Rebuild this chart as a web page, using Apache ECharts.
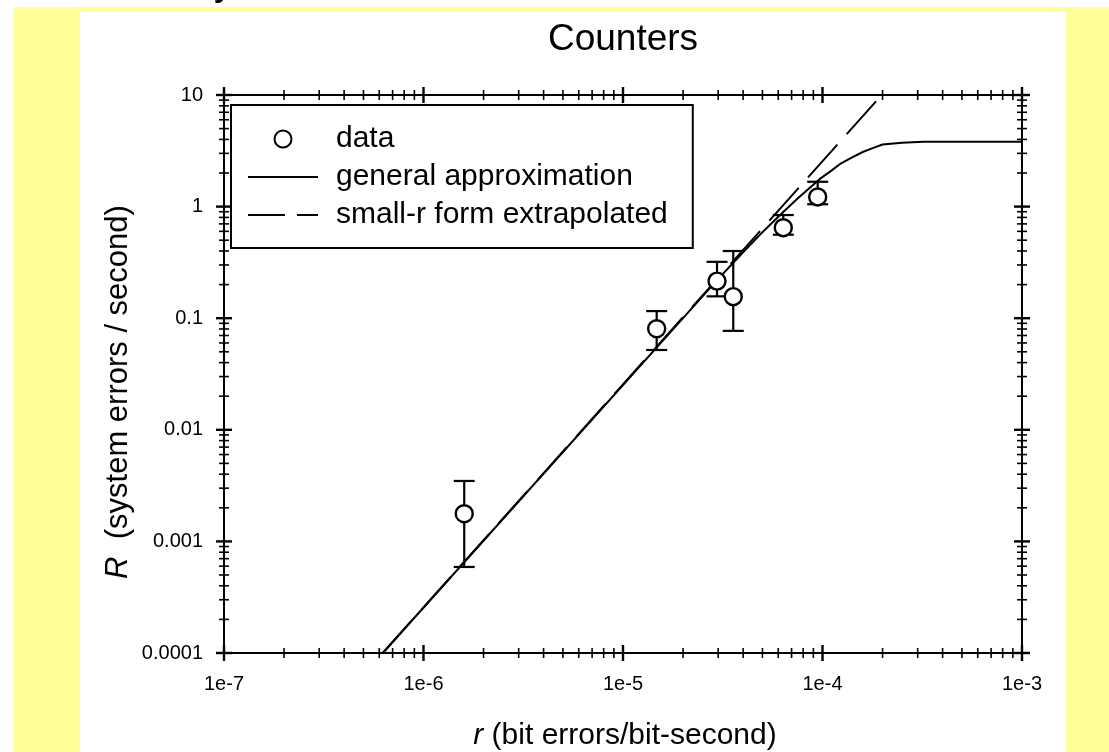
<!DOCTYPE html>
<html>
<head>
<meta charset="utf-8">
<title>Counters</title>
<script src="https://cdn.jsdelivr.net/npm/echarts@6/dist/echarts.min.js"></script>
<style>
  html, body { margin: 0; padding: 0; background: #fff; }
  #page { position: relative; width: 1109px; height: 752px; overflow: hidden; background: #fff; }
  #band { position: absolute; left: 13px; top: 7px; right: 0; bottom: 0; background: #ffff99; }
  #panel { position: absolute; left: 80px; top: 12px; width: 986px; bottom: 0; background: #fff; }
  #chart { position: absolute; left: 0; top: 0; width: 1109px; height: 752px; }
</style>
</head>
<body>
<div id="page">
  <div id="band"></div>
  <div id="panel"></div>
  <div id="chart"></div>
</div>
<script>
// measured points: r (bit errors/bit-second) vs R (system errors/second)
const dataR    = [1.6e-6, 1.475e-5, 2.96e-5, 3.57e-5, 6.36e-5, 9.46e-5];
const dataRate = [0.00177, 0.0805, 0.215, 0.156, 0.647, 1.22];
const errLow   = [0.00059, 0.0519, 0.157, 0.077, 0.56, 1.05];
const errHigh  = [0.00348, 0.1158, 0.32, 0.40, 0.84, 1.67];

// general approximation curve
const approxR    = [6.25e-7, 3e-5, 4e-5, 5e-5, 6e-5, 7.5e-5, 9.7e-5, 1.1e-4, 1.22e-4, 1.4e-4, 1.6e-4, 1.8e-4, 2e-4, 2.5e-4, 3.2e-4, 1e-3];
const approxRate = [1e-4, 0.225, 0.39, 0.59, 0.81, 1.18, 1.77, 2.08, 2.4, 2.75, 3.1, 3.36, 3.6, 3.74, 3.81, 3.82];

// small-r form, extrapolated (straight on log-log)
const smallR    = [6.25e-7, 1.98e-4];
const smallRate = [1e-4, 10];

// axes
const xDecades = [1e-7, 1e-6, 1e-5, 1e-4, 1e-3];
const yDecades = [1e-4, 1e-3, 1e-2, 1e-1, 1, 10];
const minorSteps = [2, 3, 4, 5, 6, 7, 8, 9];
const xTickLabels = ['1e-7', '1e-6', '1e-5', '1e-4', '1e-3'];
const yTickLabels = ['0.0001', '0.001', '0.01', '0.1', '1', '10'];

const FONT = '"Liberation Sans", Arial, Helvetica, sans-serif';
const X_MIN = 1e-7, X_MAX = 1e-3, Y_MIN = 1e-4, Y_MAX = 10;

const chart = echarts.init(document.getElementById('chart'), null, { renderer: 'canvas' });

function expOf(v) { return Math.round(Math.log10(v)); }

// ticks that cross the frame on all four sides
function renderTicks(params, api) {
  const lb = api.coord([X_MIN, Y_MIN]);
  const rt = api.coord([X_MAX, Y_MAX]);
  const left = lb[0], bottom = lb[1], right = rt[0], top = rt[1];
  const kids = [];
  const seg = (x1, y1, x2, y2, w) => kids.push({
    type: 'line', shape: { x1, y1, x2, y2 }, style: { stroke: '#000', lineWidth: w }
  });
  xDecades.forEach((d, i) => {
    const px = api.coord([d, Y_MIN])[0];
    seg(px, bottom - 8, px, bottom + 8, 2.4);
    seg(px, top - 8, px, top + 8, 2.4);
    if (i < xDecades.length - 1) {
      minorSteps.forEach(m => {
        const p = api.coord([d * m, Y_MIN])[0];
        seg(p, bottom - 5, p, bottom + 5, 1.6);
        seg(p, top - 5, p, top + 5, 1.6);
      });
    }
  });
  yDecades.forEach((d, i) => {
    const py = api.coord([X_MIN, d])[1];
    seg(left - 8, py, left + 8, py, 2.4);
    seg(right - 8, py, right + 8, py, 2.4);
    if (i < yDecades.length - 1) {
      minorSteps.forEach(m => {
        const p = api.coord([X_MIN, d * m])[1];
        seg(left - 5, p, left + 5, p, 1.6);
        seg(right - 5, p, right + 5, p, 1.6);
      });
    }
  });
  return { type: 'group', children: kids };
}

function renderErrorBar(params, api) {
  const x = api.value(0);
  const lo = api.coord([x, api.value(1)]);
  const hi = api.coord([x, api.value(2)]);
  const half = 10.5;
  const st = { stroke: '#000', lineWidth: 2.2 };
  return {
    type: 'group',
    children: [
      { type: 'line', shape: { x1: lo[0], y1: lo[1], x2: hi[0], y2: hi[1] }, style: st },
      { type: 'line', shape: { x1: lo[0] - half, y1: lo[1], x2: lo[0] + half, y2: lo[1] }, style: st },
      { type: 'line', shape: { x1: hi[0] - half, y1: hi[1], x2: hi[0] + half, y2: hi[1] }, style: st }
    ]
  };
}

const hiddenDot = { color: 'rgba(0,0,0,0)', borderColor: 'rgba(0,0,0,0)', borderWidth: 0, opacity: 0 };

const option = {
  animation: false,
  backgroundColor: 'transparent',
  textStyle: { fontFamily: FONT, color: '#000' },
  title: {
    text: 'Counters',
    left: 623,
    top: 21,
    padding: 0,
    textAlign: 'center',
    textStyle: { fontSize: 37, fontWeight: 'normal', color: '#000', fontFamily: FONT }
  },
  grid: {
    left: 224, top: 95, width: 798, bottom: 99,
    show: true, borderColor: '#000', borderWidth: 2, backgroundColor: 'transparent'
  },
  legend: {
    orient: 'vertical',
    left: 231, top: 105,
    data: [
      { name: 'data' },
      { name: 'general approximation', itemStyle: hiddenDot },
      { name: 'small-r form extrapolated', itemStyle: hiddenDot, lineStyle: { type: [37, 12] } }
    ],
    itemWidth: 70, itemHeight: 17, itemGap: 8,
    padding: [19, 25, 18, 16],
    borderColor: '#000', borderWidth: 2, borderRadius: 0,
    backgroundColor: '#fff',
    selectedMode: false,
    textStyle: { fontSize: 30, lineHeight: 30, color: '#000', fontFamily: FONT, padding: [0, 0, 0, 13] }
  },
  xAxis: {
    type: 'log', logBase: 10, min: X_MIN, max: X_MAX, splitNumber: 4,
    axisLine: { show: false }, axisTick: { show: false }, splitLine: { show: false },
    axisLabel: {
      fontSize: 20, color: '#000', fontFamily: FONT, margin: 21,
      formatter: v => xTickLabels[expOf(v) + 7] || ''
    }
  },
  yAxis: {
    type: 'log', logBase: 10, min: Y_MIN, max: Y_MAX, splitNumber: 5,
    axisLine: { show: false }, axisTick: { show: false }, splitLine: { show: false },
    axisLabel: {
      fontSize: 20, color: '#000', fontFamily: FONT, margin: 21,
      formatter: v => yTickLabels[expOf(v) + 4] || ''
    }
  },
  graphic: [
    {
      type: 'text', left: 214, top: -36, silent: true,
      style: { text: 'y', fontSize: 40, fontFamily: FONT, fill: '#000' }
    },
    {
      type: 'text', x: 118, y: 392, rotation: Math.PI / 2, silent: true,
      style: {
        text: '{i|R}  (system errors / second)',
        fontSize: 31, fontFamily: FONT, fill: '#000',
        align: 'center', verticalAlign: 'middle',
        rich: { i: { fontStyle: 'italic', fontSize: 31, fontFamily: FONT } }
      }
    },
    {
      type: 'text', x: 625, y: 736, silent: true,
      style: {
        text: '{i|r} (bit errors/bit-second)',
        fontSize: 30, fontFamily: FONT, fill: '#000',
        align: 'center', verticalAlign: 'middle',
        rich: { i: { fontStyle: 'italic', fontSize: 30, fontFamily: FONT } }
      }
    }
  ],
  series: [
    {
      name: 'general approximation',
      type: 'line',
      data: approxR.map((r, i) => [r, approxRate[i]]),
      symbol: 'none',
      lineStyle: { color: '#000', width: 2 },
      itemStyle: { color: '#000' },
      z: 3,
      silent: true
    },
    {
      name: 'small-r form extrapolated',
      type: 'line',
      data: smallR.map((r, i) => [r, smallRate[i]]),
      symbol: 'none',
      lineStyle: { color: '#000', width: 2, type: [44, 14] },
      itemStyle: { color: '#000' },
      z: 3,
      silent: true
    },
    {
      name: 'error bars',
      type: 'custom',
      data: dataR.map((r, i) => [r, errLow[i], errHigh[i]]),
      encode: { x: 0, y: [1, 2] },
      renderItem: renderErrorBar,
      z: 4,
      silent: true
    },
    {
      name: 'data',
      type: 'scatter',
      data: dataR.map((r, i) => [r, dataRate[i]]),
      symbol: 'circle',
      symbolSize: 17,
      itemStyle: { color: '#fff', borderColor: '#000', borderWidth: 2.4, opacity: 1 },
      z: 5,
      silent: true
    },
    {
      name: 'ticks',
      type: 'custom',
      data: [[X_MIN, Y_MIN]],
      renderItem: renderTicks,
      clip: false,
      z: 6,
      silent: true
    }
  ]
};

chart.setOption(option);
</script>
</body>
</html>
